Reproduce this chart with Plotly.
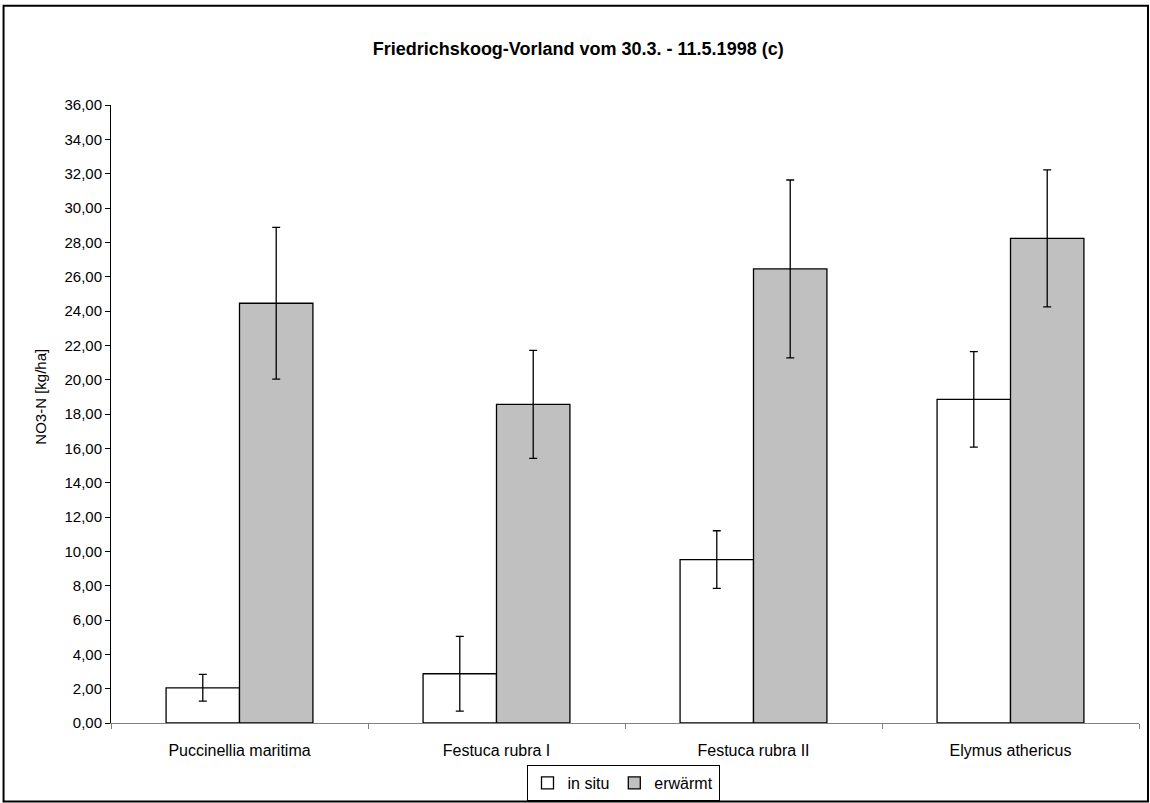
import plotly.graph_objects as go

categories = ["Puccinellia maritima", "Festuca rubra I", "Festuca rubra II", "Elymus athericus"]
in_situ = [2.05, 2.87, 9.52, 18.85]
in_situ_err = [0.78, 2.18, 1.68, 2.78]
erwaermt = [24.45, 18.56, 26.45, 28.23]
erwaermt_err = [4.42, 3.15, 5.18, 3.99]
y_ticks = [0, 2, 4, 6, 8, 10, 12, 14, 16, 18, 20, 22, 24, 26, 28, 30, 32, 34, 36]
y_tick_labels = [f"{v:.2f}".replace(".", ",") for v in y_ticks]

W, H = 1150, 803
L, R, T, B = 110.5, 11, 104.5, 79.7
PW, PH = W - L - R, H - T - B


def px(x):
    return (x - L) / PW


def py(y):
    return (H - B - y) / PH


FONT = "Liberation Sans, Arial, sans-serif"

fig = go.Figure()
fig.add_trace(go.Bar(
    name="in situ", x=categories, y=in_situ,
    marker=dict(color="#ffffff", line=dict(color="#000000", width=1.3)),
    error_y=dict(type="data", array=in_situ_err, color="#000000", thickness=1.3, width=4),
))
fig.add_trace(go.Bar(
    name="erwärmt", x=categories, y=erwaermt,
    marker=dict(color="#c0c0c0", line=dict(color="#000000", width=1.3)),
    error_y=dict(type="data", array=erwaermt_err, color="#000000", thickness=1.3, width=4),
))

fig.update_layout(
    width=W, height=H,
    margin=dict(l=L, r=R, t=T, b=B, pad=0, autoexpand=False),
    paper_bgcolor="#ffffff", plot_bgcolor="#ffffff",
    barmode="group", bargap=0.4286, bargroupgap=0,
    font=dict(family=FONT, size=15, color="#000000"),
    title=dict(text="<b>Friedrichskoog-Vorland vom 30.3. - 11.5.1998 (c)</b>",
               x=px(578), xref="paper", xanchor="center",
               y=1 - 49 / H, yref="container", yanchor="middle",
               font=dict(family=FONT, size=18, color="#000000")),
    showlegend=True,
    legend=dict(orientation="h", xref="container", yref="container",
                x=623 / W, xanchor="center", y=1 - 783 / H, yanchor="middle",
                bordercolor="#000000", borderwidth=1, bgcolor="#ffffff",
                font=dict(family=FONT, size=16), itemwidth=30,
                tracegroupgap=0),
    xaxis=dict(showgrid=False, showline=True, linecolor="#808080", linewidth=1,
               ticks="outside", tickson="boundaries", ticklen=5, tickcolor="#808080",
               ticklabelstandoff=13,
               tickfont=dict(family=FONT, size=16), zeroline=False),
    yaxis=dict(range=[0, 36], tickvals=y_ticks, ticktext=y_tick_labels,
               showgrid=False, showline=True, linecolor="#000000", linewidth=1,
               ticks="outside", ticklen=5, tickcolor="#000000",
               tickfont=dict(family=FONT, size=15), zeroline=False),
)

fig.add_annotation(text="NO3-N [kg/ha]", textangle=-90, xref="paper", yref="paper",
                   x=px(40), y=py(397), xanchor="center", yanchor="middle",
                   showarrow=False, font=dict(family=FONT, size=15, color="#000000"))

fig.add_shape(type="rect", xref="paper", yref="paper",
              x0=px(3), x1=px(1148), y0=py(802), y1=py(5),
              line=dict(color="#000000", width=2), fillcolor="rgba(0,0,0,0)", layer="below")

post = (
    "document.documentElement.style.margin='0';"
    "document.documentElement.style.overflow='hidden';"
    "document.body.style.margin='0';"
    "document.body.style.overflow='hidden';"
)

fig.write_html("out.html", config={"displayModeBar": False}, post_script=post)
